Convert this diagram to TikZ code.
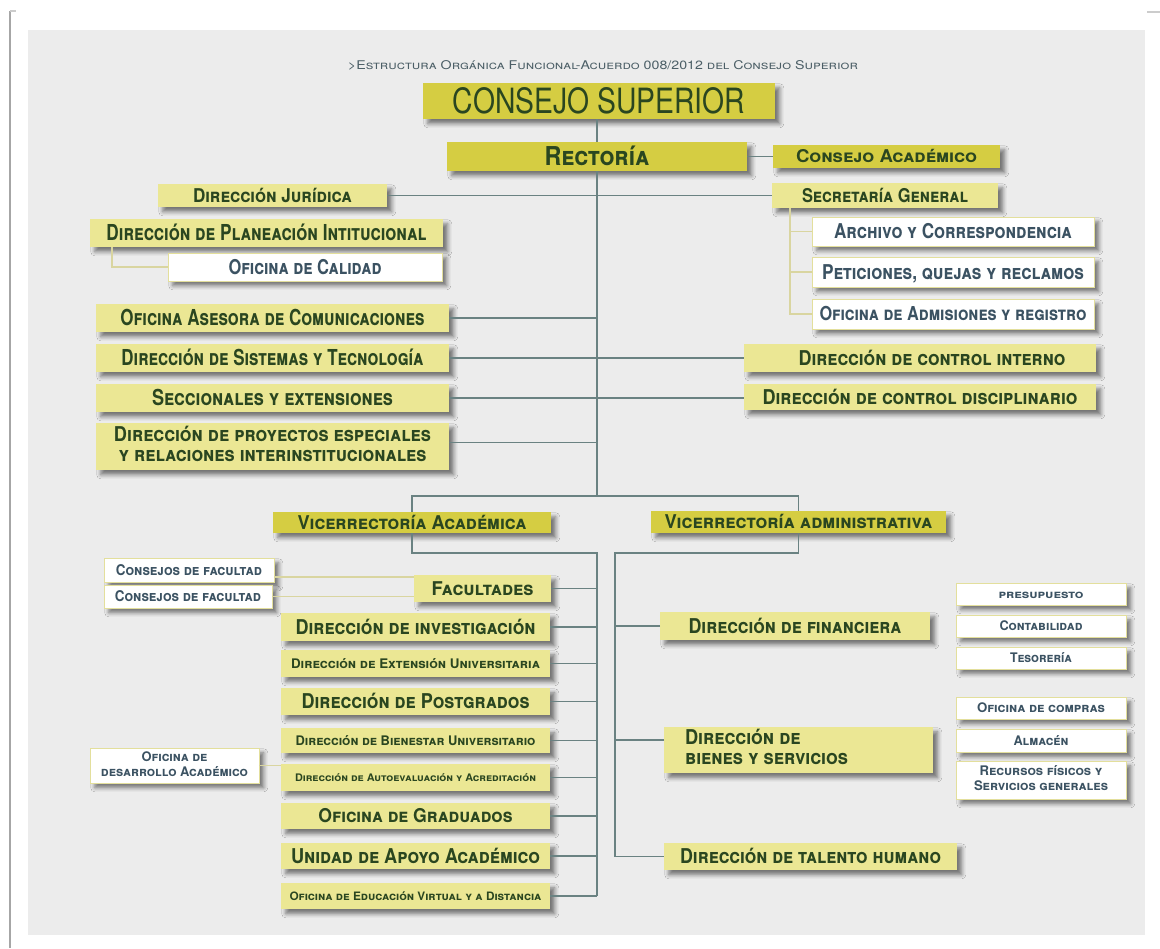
\documentclass[tikz,border=0pt]{standalone}
\usepackage{fontspec}
\setmainfont{TeX Gyre Heros}
\usepackage{graphicx}
\usetikzlibrary{shadows.blur}
\definecolor{panelc}{HTML}{ECECEC}
\definecolor{ydark}{HTML}{D5CD42}
\definecolor{ylight}{HTML}{EBE794}
\definecolor{tgreen}{HTML}{2A4620}
\definecolor{tblue}{HTML}{3B5262}
\definecolor{tgray}{HTML}{4B5E66}
\definecolor{wedge}{HTML}{E3DF9C}
\definecolor{lcol}{HTML}{6A8282}
\definecolor{bcol}{HTML}{D9D5A0}
\newcommand\tx[3]{\smash{\resizebox{#1pt}{\height}{\fontsize{#2}{#2}\selectfont\bfseries\scshape #3}}\vrule height \dimexpr #2pt*72/100\relax depth 0pt width 0pt}
\newcommand\txr[3]{\smash{\resizebox{#1pt}{\height}{\fontsize{#2}{#2}\selectfont\scshape #3}}\vrule height \dimexpr #2pt*72/100\relax depth 0pt width 0pt}
\newcommand\txm[5]{\resizebox{#1pt}{\height}{\fontsize{#2}{#3}\selectfont\bfseries\scshape\begin{tabular}{@{}#4@{}}#5\end{tabular}}}
\newcommand\bx[7]{\node[#1, minimum width={(#5-#3)*0.5pt}, minimum height={(#6-#4)*0.5pt}] (#2) at ({(#3+#5)/2},{(#4+#6)/2}) {#7};}
\tikzset{
  base/.style={inner sep=0pt, outer sep=0pt, blur shadow={shadow xshift=2.4pt, shadow yshift=-2.4pt, shadow blur radius=2pt, shadow opacity=50}},
  yd/.style={base, fill=ydark, text=tgreen},
  yl/.style={base, fill=ylight, text=tgreen},
  wb/.style={base, fill=white, draw=wedge, line width=0.4pt, text=tblue},
  ln/.style={draw=lcol, line width=0.65pt},
  br/.style={draw=bcol, line width=0.55pt},
  ttl/.style={inner sep=0pt, text=tgray}
}
\begin{document}
\begin{tikzpicture}[x=0.5pt,y=-0.5pt]
\useasboundingbox (0,0) rectangle (1160,948);
\fill[white] (0,0) rectangle (1160,948);
\fill[panelc] (28,30) rectangle (1145,935);
\draw[line width=1.2pt, draw=black!35] (10,11) -- (10,948);
\draw[line width=0.6pt, draw=black!20] (10,11) -- (16,11);
\draw[line width=0.6pt, draw=black!20] (1147,12) -- (1160,12);

\node[ttl] (title) at (603,65) {\txr{255}{6}{>Estructura Orgánica Funcional-Acuerdo 008/2012 del Consejo Superior}};

\bx{yd}{cs}{423}{83}{775}{119}{\smash{\resizebox{146pt}{\height}{\fontsize{17.4}{17.4}\selectfont CONSEJO SUPERIOR}}\vrule height 12.5pt depth 0pt width 0pt}
\bx{yd}{rect}{447}{142}{747}{171}{\tx{52.5}{13}{Rectoría}}
\bx{yd}{ca}{773}{145}{1000}{168}{\tx{90.5}{8.8}{Consejo Académico}}
\bx{yl}{jur}{158}{184}{387}{207}{\tx{79.5}{9.5}{Dirección Jurídica}}
\bx{yl}{sec}{772}{183}{998}{208}{\tx{83}{9.5}{Secretaría General}}
\bx{yl}{plan}{90}{219}{443}{247}{\tx{160}{11}{Dirección de Planeación Intitucional}}
\bx{wb}{cal}{168}{253}{442}{281}{\tx{76.5}{10.2}{Oficina de Calidad}}
\bx{wb}{arc}{812}{217}{1094}{246}{\tx{119}{10.2}{Archivo y Correspondencia}}
\bx{wb}{pet}{812}{257}{1094}{287}{\tx{131}{10.2}{Peticiones, quejas y reclamos}}
\bx{wb}{adm}{812}{299}{1094}{329}{\tx{133.5}{9.6}{Oficina de Admisiones y registro}}
\bx{yl}{ases}{96}{304}{449}{332}{\tx{152}{11}{Oficina Asesora de Comunicaciones}}
\bx{yl}{sis}{96}{344}{449}{372}{\tx{151}{11}{Dirección de Sistemas y Tecnología}}
\bx{yl}{secc}{96}{384}{449}{412}{\tx{120.5}{11}{Seccionales y extensiones}}
\bx{yl}{proy}{96}{423}{449}{470}{\txm{158.5}{10.2}{10}{c}{Dirección de proyectos especiales\\y relaciones interinstitucionales}}
\bx{yl}{ci}{744}{344}{1096}{372}{\hspace{12pt}\tx{133.5}{10.2}{Dirección de control interno}}
\bx{yl}{cd}{744}{384}{1096}{410}{\tx{157.5}{10.2}{Dirección de control disciplinario}}
\bx{yd}{va}{273}{512}{551}{533}{\tx{114.5}{9.5}{Vicerrectoría Académica}}
\bx{yd}{vad}{651}{511}{946}{533}{\tx{134}{9.5}{Vicerrectoría administrativa}}
\bx{wb}{cf1}{104}{558}{274}{582}{\tx{73}{7.4}{Consejos de facultad}}
\bx{wb}{cf2}{104}{585}{272}{608}{\tx{73}{7.4}{Consejos de facultad}}
\bx{yl}{fac}{414}{575}{551}{602}{\tx{51}{9.5}{Facultades}}
\bx{yl}{inv}{281}{613}{550}{641}{\tx{120}{10.2}{Dirección de investigación}}
\bx{yl}{ext}{281}{650}{550}{677}{\tx{124.5}{6.6}{Dirección de Extensión Universitaria}}
\bx{yl}{post}{281}{688}{550}{715}{\tx{114}{10.2}{Dirección de Postgrados}}
\bx{yl}{bien}{281}{728}{550}{753}{\tx{120}{6.6}{Dirección de Bienestar Universitario}}
\bx{yl}{auto}{281}{764}{550}{791}{\tx{120.5}{5.2}{Dirección de Autoevaluación y Acreditación}}
\bx{yl}{grad}{281}{803}{550}{829}{\tx{97}{9.5}{Oficina de Graduados}}
\bx{yl}{uni}{281}{843}{550}{869}{\tx{124.5}{10.2}{Unidad de Apoyo Académico}}
\bx{yl}{edu}{281}{883}{550}{909}{\tx{126}{5.8}{Oficina de Educación Virtual y a Distancia}}
\bx{wb}{des}{90}{748}{259}{783}{\txm{73.5}{6.6}{7.5}{c}{Oficina de\\desarrollo Académico}}
\bx{yl}{fin}{660}{612}{930}{640}{\tx{106.5}{10.2}{Dirección de financiera}}
\bx{wb}{pres}{956}{583}{1126}{605}{\tx{42.5}{5.8}{presupuesto}}
\bx{wb}{cont}{956}{615}{1126}{637}{\tx{41.5}{6.6}{Contabilidad}}
\bx{wb}{tes}{956}{647}{1126}{669}{\tx{31}{6.6}{Tesorería}}
\bx{wb}{comp}{956}{697}{1126}{719}{\tx{64}{6.6}{Oficina de compras}}
\bx{wb}{alm}{956}{729}{1126}{752}{\tx{27.5}{6.6}{Almacén}}
\bx{wb}{rec}{956}{761}{1126}{799}{\txm{67}{6.6}{7.5}{c}{Recursos físicos y\\Servicios generales}}
\bx{yl}{bie}{664}{727}{933}{773}{\makebox[134.5pt][l]{\hspace{10.5pt}\txm{81.5}{10.2}{10}{l}{Dirección de\\bienes y servicios}}}
\bx{yl}{tal}{664}{843}{957}{870}{\tx{130.5}{10.2}{Dirección de talento humano}}

% connectors
\coordinate (spend) at (597,496);
\coordinate (acs) at (597,553);
\coordinate (ads) at (615,553);
\draw[ln] (rect.north |- cs.south) -- (rect.north);
\draw[ln] (rect.south) -- (spend);
\draw[ln] (rect.east) -- (ca.west);
\draw[ln] (jur.east) -- (jur.east -| sec.west);
\draw[ln] (ases.east) -- (ases.east -| spend);
\draw[ln] (sis.east) -- (sis.east -| ci.west);
\draw[ln] (secc.east) -- (secc.east -| cd.west);
\draw[ln] ([yshift=2pt]proy.east) -- ([yshift=2pt]proy.east -| spend);
\draw[ln] (va.north) |- (spend) -| (vad.north);
\draw[ln] (va.south) |- (acs) -- (acs |- edu.east);
\foreach \n in {fac,inv,ext,post,bien,auto,grad,uni,edu}{
  \draw[ln] (\n.east) -- (\n.east -| acs);
}
\draw[ln] (vad.south) |- (ads) |- (tal.west);
\draw[ln] (fin.west) -- (fin.west -| ads);
\draw[ln] ([yshift=5pt]bie.west) -- ([yshift=5pt]bie.west -| ads);

% sub-brackets
\coordinate (sb) at ([xshift=9pt]sec.south west);
\draw[br] (sb) |- (adm.west);
\draw[br] (arc.west) -- (arc.west -| sb);
\draw[br] (pet.west) -- (pet.west -| sb);
\draw[br] ([xshift=11pt]plan.south west) |- (cal.west);
\draw[br] ([yshift=-3.5pt]cf1.east) -- ([yshift=-3.5pt]cf1.east -| fac.west);
\draw[br] (cf2.east) -- (cf2.east -| fac.west);
\draw[br] (des.east) -- (des.east -| bien.west);
\end{tikzpicture}
\end{document}
